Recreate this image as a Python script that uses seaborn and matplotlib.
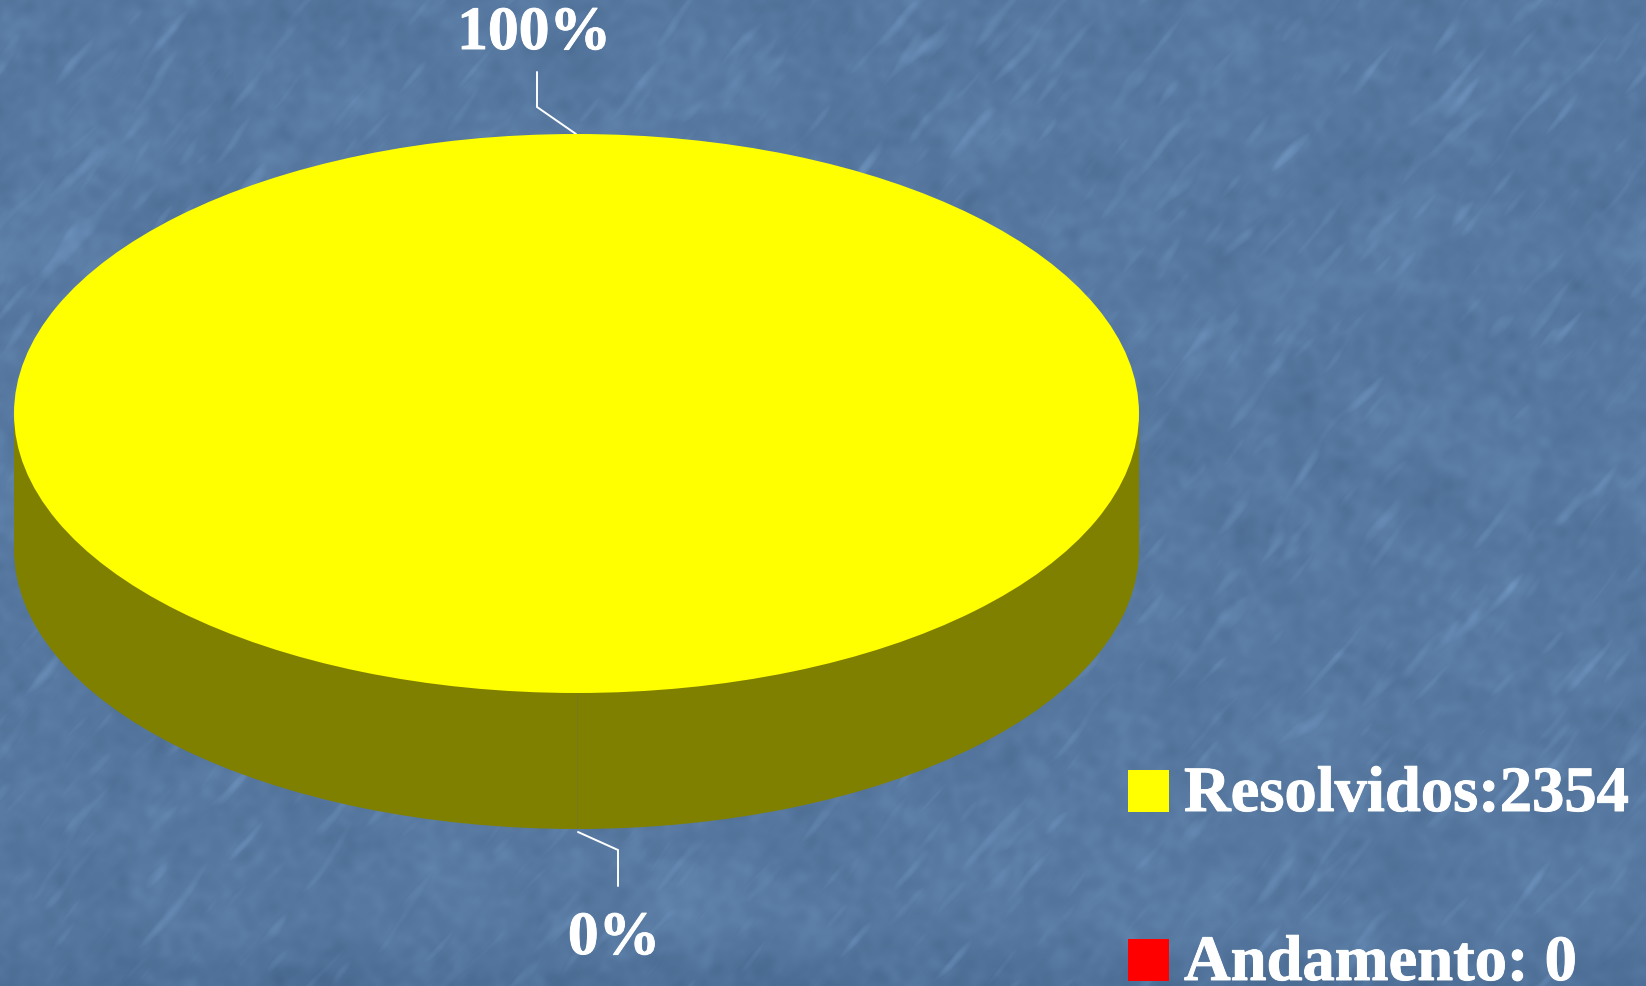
"""
Pie chart of tickets, resolved vs in progress, slide style
"""
import numpy as np
import matplotlib.pyplot as plt
import matplotlib.patheffects as pe
import seaborn as sns
from matplotlib.patches import Rectangle

W, H = 1646, 987

categories = ["Resolvidos", "Andamento"]
values = [2354, 0]
legend_labels = ["Resolvidos:2354", "Andamento: 0"]
colors = ["#FFFF00", "#FF0000"]
side_colors = ["#808000", "#800000"]

sns.set_theme(style="white")
plt.rcParams["font.family"] = ["Liberation Serif", "DejaVu Serif"]
plt.rcParams["font.weight"] = "bold"

fig = plt.figure(figsize=(W / 100, H / 100), dpi=100)

# ---------------------------------------------------------------
# Background, blue slide texture with sparse diagonal streaks
# ---------------------------------------------------------------
rng = np.random.default_rng(7)
fy = np.fft.fftfreq(H)[:, None]
fx = np.fft.rfftfreq(W)[None, :]
angle = np.deg2rad(50)
along = fx * np.cos(angle) - fy * np.sin(angle)
across = fx * np.sin(angle) + fy * np.cos(angle)
fine = np.exp(-(along / 0.014) ** 2 - (across / 0.07) ** 2)
mottle = np.exp(-(fx / 0.05) ** 2 - (fy / 0.05) ** 2)
broad = np.exp(-(fx / 0.01) ** 2 - (fy / 0.01) ** 2)


def texture(mask):
    t = np.fft.irfft2(np.fft.rfft2(rng.normal(size=(H, W))) * mask, s=(H, W))
    return t / t.std()


streaks = texture(fine)
streaks = np.where(streaks > 1.0, (streaks - 1.0) * 2.2, 0) - 0.25 * np.abs(streaks)
noise = streaks + 0.55 * texture(mottle) + 0.45 * texture(broad)
base = np.array([88, 122, 162], dtype=float)
tint = np.array([3.6, 4.2, 4.6])
bg = base + noise[..., None] * tint
bg[-60:] -= np.linspace(0, 8, 60)[:, None, None]
bg = np.clip(bg, 0, 255).astype(np.uint8)

ax_bg = fig.add_axes([0, 0, 1, 1])
ax_bg.imshow(bg, extent=(0, W, H, 0), aspect="auto", interpolation="bilinear")
ax_bg.set_xlim(0, W)
ax_bg.set_ylim(H, 0)
ax_bg.axis("off")

# ---------------------------------------------------------------
# Thick pie: dark copy below, side band, top face
# ---------------------------------------------------------------
left, right = 14, 1139
top, face_bottom, side_bottom = 135, 694, 830
depth = 2 * (side_bottom - face_bottom) / (face_bottom - top)

ax = fig.add_axes([left / W, 1 - side_bottom / H,
                   (right - left) / W, (side_bottom - top) / H])
ax.patch.set_alpha(0)
ax.pie(values, colors=side_colors, startangle=270, center=(0, -depth), radius=1,
       wedgeprops={"linewidth": 0})
ax.fill_between([-1, 1], -depth, 0, color=side_colors[0], linewidth=0)
ax.plot([0, 0], [-1, -1 - depth], color="#77772a", lw=0.6)
ax.pie(values, colors=colors, startangle=270, radius=1, wedgeprops={"linewidth": 0})
ax.set_aspect("auto")
ax.set_xlim(-1, 1)
ax.set_ylim(-1 - depth, 1)
ax.axis("off")

# ---------------------------------------------------------------
# Percent labels with leader lines
# ---------------------------------------------------------------
total = sum(values)
pct = [f"{v / total * 100:.0f}%" for v in values]
heavy = [pe.withStroke(linewidth=0.7, foreground="white")]

ax_bg.plot([537, 537, 576], [73, 108, 135], color="white", lw=1.4, solid_joinstyle="miter")
ax_bg.plot([578, 618, 618], [833, 851, 887], color="white", lw=1.4, solid_joinstyle="miter")
ax_bg.text(534, 50, pct[0], color="white", fontsize=44.3, fontweight="bold",
           ha="center", va="baseline", path_effects=heavy)
ax_bg.text(614, 955, pct[1], color="white", fontsize=44.3, fontweight="bold",
           ha="center", va="baseline", path_effects=heavy)

# ---------------------------------------------------------------
# Legend
# ---------------------------------------------------------------
for label, color, y in zip(legend_labels, colors, [812, 981]):
    ax_bg.add_patch(Rectangle((1128, y - 41), 41, 42, facecolor=color, linewidth=0))
    ax_bg.text(1184, y, label, color="white", fontsize=46.5, fontweight="bold",
               ha="left", va="baseline", path_effects=heavy)

fig.savefig("out.png", dpi=100)
plt.close(fig)
